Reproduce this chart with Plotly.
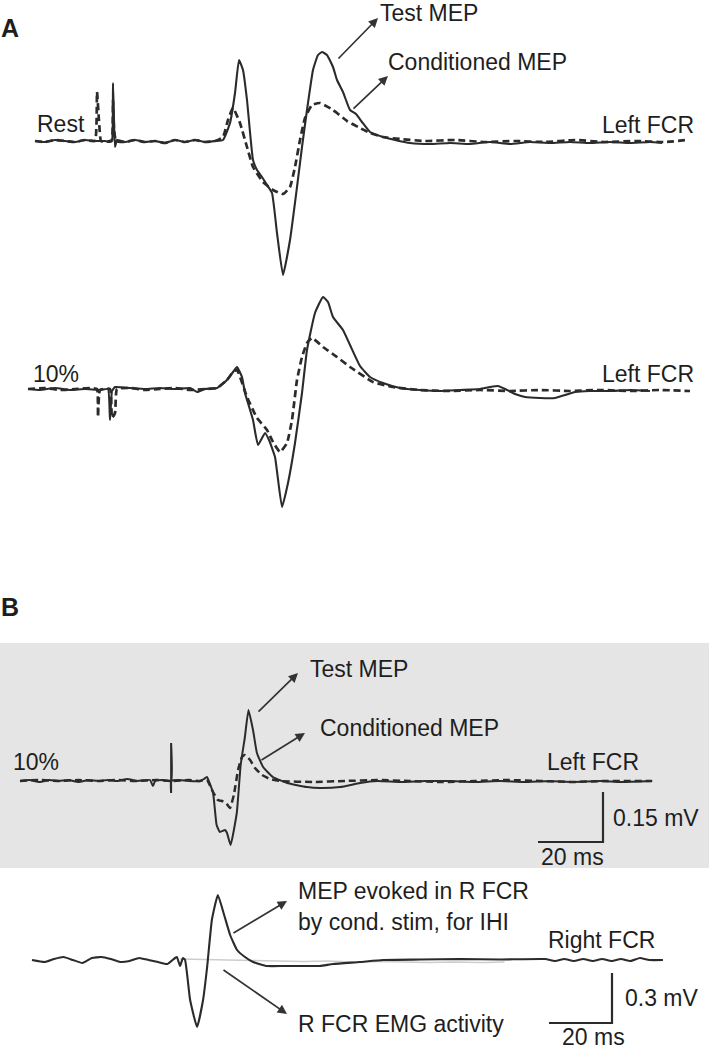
import plotly.graph_objects as go

W, H = 710, 1050

# ---------------- DATA (time in ms, amplitude in mV) ----------------
# Panel A, Rest: test MEP (solid) and conditioned MEP (dashed)
a1_test_t = [0,2,4,6,8,10,12,14,15,15.4,15.6,15.8,16,16.4,18,20,22,24,26,28,30,32,34,36,
             37.6,39,40,40.8,41.6,42.4,43.6,44.4,45.4,46.4,47.4,48.4,49.6,51,52.4,53.4,54.4,55.6,56.6,57.4,58.4,
             59.6,60.4,61.6,63,64.2,65.4,67,69.6,72,75,79,83,87,91,95,99,103,107,111,115,119,123,125.4]
a1_test_v = [0,-0.005,0.005,0,-0.005,0.005,0,0,-0.005,0,0.29,0.105,-0.03,0.005,-0.005,0.005,-0.005,0,-0.01,0.005,-0.005,0.005,-0.005,0,
             0.005,0.09,0.24,0.405,0.355,0.205,-0.095,-0.145,-0.18,-0.22,-0.26,-0.46,-0.67,-0.495,-0.23,-0.03,0.155,0.355,0.43,0.445,0.43,
             0.37,0.305,0.245,0.155,0.135,0.095,0.045,0.02,0.005,-0.01,-0.015,-0.01,-0.015,-0.005,-0.015,-0.005,-0.01,-0.005,-0.01,-0.005,-0.01,-0.005,-0.01]
a1_cond_t = [0,2,4,6,8,10,12,12.4,12.8,13.2,14,15,15.4,15.6,15.8,16.2,18,20,22,24,26,28,30,32,34,36,
             37.6,38.6,39.6,41,42.4,43.6,45.6,47.6,49.6,51,52,53,54,55.4,57,59.6,62.4,65,67,69.6,
             73,78,84,90,96,102,108,114,120,126,130.4]
a1_cond_v = [0,-0.005,0.005,0,-0.005,0.005,0,0.245,0.1,0,-0.005,0,0.005,0.205,0.06,0,-0.005,0.005,-0.005,0,-0.01,0.005,-0.005,0.005,-0.005,0,
             0.02,0.105,0.165,0.09,-0.03,-0.13,-0.205,-0.245,-0.265,-0.23,-0.13,0.005,0.115,0.18,0.19,0.155,0.1,0.065,0.04,0.02,
             0.01,0,0.005,-0.005,0,-0.005,0.005,-0.005,0,-0.005,0.005]

# Panel A, 10% contraction
a2_test_t = [-1.4,1,4,7,10,13,14.6,15,15.4,16,19,22,25,28,31,32.4,34,36.4,
             38.4,39.6,40.4,41.4,42,43.6,44.6,46,46.8,48,49.4,50.6,52,53.4,54.4,56,57.6,58.6,59.6,61.6,63,65,67,69.6,
             73,77,81,85,89,91,92.6,94,96,98,101,104,106,108,111,115,119,123]
a2_test_v = [0,-0.005,0.005,-0.005,0,-0.005,0,-0.155,-0.01,0.01,0.005,0,0.005,0,0.005,-0.015,0,0.005,
             0.045,0.085,0.11,0.06,-0.02,-0.155,-0.28,-0.22,-0.255,-0.34,-0.59,-0.47,-0.27,-0.02,0.195,0.38,0.46,0.435,0.36,0.295,0.22,0.115,0.06,0.03,
             0.005,-0.005,-0.01,-0.005,0,0.01,0.015,0,-0.025,-0.04,-0.045,-0.045,-0.03,-0.015,-0.01,-0.01,-0.005,-0.01]
a2_cond_t = [-1.4,2,5,8,11,12.4,12.6,13,15,15.4,16,16.4,19,22,25,28,31,34,36.4,
             38.4,39.6,40.4,42.4,44.4,46.4,47.6,49,50.4,51.4,52.4,53.4,54.4,55.4,57.6,60.4,63,67.6,71.6,
             77,83,89,95,101,107,113,119,125,131]
a2_cond_v = [0,0.005,-0.005,0,0.005,0,-0.14,-0.005,0,-0.145,-0.12,0,0.005,-0.005,0,0.005,-0.005,0,0.005,
             0.045,0.085,0.095,-0.04,-0.145,-0.205,-0.265,-0.315,-0.27,-0.155,0.045,0.16,0.23,0.255,0.21,0.16,0.11,0.035,0.01,
             -0.005,-0.01,-0.005,-0.01,-0.005,-0.01,-0.005,-0.01,-0.005,-0.01]

# Panel B, left FCR (10%)
b_test_t = [0,3,6,9,12,15,18,21,24,27,30,33,36,40,40.9,41.6,44,46.5,46.5,46.5,46.5,49,52,55.4,
            56.6,57.5,59.4,60.5,61.5,63.1,63.7,64.8,66.7,67.9,69.2,70.3,71.7,72.9,74.8,77.8,82.2,88.3,
            92.3,98.5,104.6,110,116.9,125,132.3,140,147.7,155,163.1,170,178.5,185,194.5]
b_test_v = [0,0.003,-0.003,0.003,0,0.003,-0.003,0.003,0,0.003,0,0.006,0,0.003,-0.015,0,0.003,0,0.114,-0.036,0,0.003,0,0,
            0.006,0.012,-0.036,-0.132,-0.153,-0.147,-0.156,-0.192,-0.096,0.048,0.132,0.213,0.153,0.084,0.042,0.012,-0.006,-0.018,
            -0.021,-0.018,-0.006,0,-0.003,0,0,-0.003,0,-0.003,0,-0.003,0,-0.003,0]
b_cond_t = [0,6,12,18,24,30,36,42,46.5,52,55.4,57.5,59.4,60.9,62.2,63.4,64.6,65.8,67.1,68.3,69.2,
            70.8,72.3,74.5,76.9,80,90,100,110,120,130,140,150,160,170,180,194.5]
b_cond_v = [0,0.003,0,0.003,0,0.003,0,0.003,0,0.003,0,0.003,-0.033,-0.057,-0.06,-0.066,-0.081,-0.042,0.033,0.072,0.078,
            0.063,0.039,0.018,0.006,0,-0.003,0,0.003,0,-0.003,0,0.003,0,-0.003,0,0]

# Panel B, right FCR
c_mep_t = [0,4,7,10,13,16,19,22,25,28,31,34,37,40,43,45.4,46,47,47.9,48.6,
           50.2,52.4,54.3,55.6,57.1,59,61,62.9,65.1,67.6,70.2,74.6,80,85.1,91.4,95.6,104.1,111.4,123.2,135.9,
           148.6,162.9,166,169,172,175,178,181,184,187,190,193,196,200.3]
c_mep_v = [0,-0.012,0.006,0.018,0,-0.018,0.012,0.018,0.006,-0.012,-0.006,0.012,0,-0.012,-0.024,0.012,0.018,-0.036,0.012,0,
           -0.24,-0.402,-0.24,-0.042,0.24,0.39,0.27,0.15,0.06,0.018,-0.012,-0.036,-0.036,-0.036,-0.036,-0.024,-0.012,0,0.003,0.006,
           0.003,0.006,-0.006,0.006,-0.006,0.006,-0.006,0.006,-0.006,0.006,-0.006,0.012,0,0]
c_emg_t = [47,55,62,70,78,86,94,102,110,118,126,134,142,150]
c_emg_v = [0.006,0.003,0,-0.003,-0.006,-0.009,-0.006,-0.012,-0.009,-0.012,-0.015,-0.012,-0.015,-0.012]

# Scale bars
scale_b = {"ms": 20, "mV": 0.15}
scale_c = {"ms": 20, "mV": 0.3}

# ---------------- LAYOUT (pixel placement of each panel) ----------------
# (px per ms, px of t=0) and (px per mV, px of baseline)
PANEL_A_X = (5.0, 35)
PANEL_A1_Y = (200.0, 141)
PANEL_A2_Y = (200.0, 389)
PANEL_B_X = (3.25, 20)
PANEL_B_Y = (333.33, 781)
PANEL_C_X = (3.15, 32)
PANEL_C_Y = (166.67, 960)

def xr(sc):
    k, x0 = sc
    return [(0 - x0) / k, (W - x0) / k]

def yr(sc):
    k, y0 = sc
    return [(y0 - H) / k, (y0 - 0) / k]

INK = "#2b2b2b"
fig = go.Figure()

def add(t, v, xa, ya, dash=None, width=2.0, color=INK):
    fig.add_trace(go.Scatter(x=t, y=v, xaxis=xa, yaxis=ya, mode="lines",
                             line=dict(color=color, width=width, dash=dash, shape="spline", smoothing=0.4),
                             hoverinfo="skip", showlegend=False))

DASH = "7px,4px"
add(a1_test_t, a1_test_v, "x", "y", width=2.1)
add(a1_cond_t, a1_cond_v, "x", "y", dash=DASH, width=2.7)
add(a2_test_t, a2_test_v, "x", "y2", width=2.1)
add(a2_cond_t, a2_cond_v, "x", "y2", dash=DASH, width=2.7)
add(b_cond_t, b_cond_v, "x2", "y3", dash=DASH, width=2.5)
add(b_test_t, b_test_v, "x2", "y3", width=2.0)
add(c_emg_t, c_emg_v, "x3", "y4", width=1.6, color="#cdcdcd")
add(c_mep_t, c_mep_v, "x3", "y4", width=2.1)

# scale bars (L-shaped) drawn in data units of each panel
def scalebar(corner_t, corner_v, sc, xa, ya):
    fig.add_trace(go.Scatter(
        x=[corner_t - sc["ms"], corner_t, corner_t],
        y=[corner_v, corner_v, corner_v + sc["mV"]],
        xaxis=xa, yaxis=ya, mode="lines", line=dict(color=INK, width=2.2),
        hoverinfo="skip", showlegend=False))

scalebar((603 - PANEL_B_X[1]) / PANEL_B_X[0], (PANEL_B_Y[1] - 842) / PANEL_B_Y[0], scale_b, "x2", "y3")
scalebar((612 - PANEL_C_X[1]) / PANEL_C_X[0], (PANEL_C_Y[1] - 1023) / PANEL_C_Y[0], scale_c, "x3", "y4")

ax_common = dict(visible=False, fixedrange=True, domain=[0, 1])
fig.update_layout(
    width=W, height=H, autosize=False,
    margin=dict(l=0, r=0, t=0, b=0, pad=0),
    paper_bgcolor="white", plot_bgcolor="rgba(0,0,0,0)",
    xaxis=dict(range=xr(PANEL_A_X), anchor="y", **ax_common),
    xaxis2=dict(range=xr(PANEL_B_X), anchor="y3", **ax_common),
    xaxis3=dict(range=xr(PANEL_C_X), anchor="y4", **ax_common),
    yaxis=dict(range=yr(PANEL_A1_Y), anchor="x", **ax_common),
    yaxis2=dict(range=yr(PANEL_A2_Y), anchor="x", **ax_common),
    yaxis3=dict(range=yr(PANEL_B_Y), anchor="x2", **ax_common),
    yaxis4=dict(range=yr(PANEL_C_Y), anchor="x3", **ax_common),
    showlegend=False,
)

# gray background of the upper part of panel B
fig.add_shape(type="rect", xref="paper", yref="paper",
              x0=0, x1=709 / W, y0=1 - 868 / H, y1=1 - 643 / H,
              fillcolor="#e5e5e5", line=dict(width=0), layer="below")

FONT = "Liberation Sans, Arial, Helvetica, sans-serif"
TXT = "#1e1e1e"

def label(text, x, y, size=23, bold=False):
    fig.add_annotation(text=("<b>%s</b>" % text) if bold else text,
                       x=x / W, y=1 - y / H, xref="paper", yref="paper",
                       xanchor="left", yanchor="middle", showarrow=False,
                       borderpad=0, font=dict(family=FONT, size=size, color=TXT))

def arrow(tail, head):
    fig.add_annotation(text="", x=head[0] / W, y=1 - head[1] / H, xref="paper", yref="paper",
                       ax=tail[0] - head[0], ay=tail[1] - head[1], showarrow=True,
                       arrowhead=2, arrowsize=1.1, arrowwidth=1.7, arrowcolor="#333", standoff=0)

label("A", 0, 28, size=25, bold=True)
label("Rest", 36, 124)
label("Test MEP", 379, 13)
label("Conditioned MEP", 387, 62)
label("Left FCR", 601, 125)
label("10%", 32, 374)
label("Left FCR", 601, 374)
label("B", 0, 607, size=25, bold=True)
label("Test MEP", 309, 669)
label("Conditioned MEP", 319, 728)
label("10%", 12, 762)
label("Left FCR", 546, 762)
label("0.15 mV", 612, 818)
label("20 ms", 540, 857)
label("MEP evoked in R FCR", 297, 891)
label("by cond. stim, for IHI", 297, 922)
label("Right FCR", 547, 940)
label("R FCR EMG activity", 297, 1024)
label("0.3 mV", 624, 998)
label("20 ms", 561, 1037)

arrow((337, 60), (378, 18))
arrow((352, 110), (388, 76))
arrow((257, 713), (298, 673))
arrow((260, 761), (305, 733))
arrow((232, 934), (287, 901))
arrow((222, 969), (287, 1014))

fig.write_html("out.html", config={"displayModeBar": False, "staticPlot": True},
               post_script="document.body.style.margin='0';document.body.style.overflow='hidden';")
